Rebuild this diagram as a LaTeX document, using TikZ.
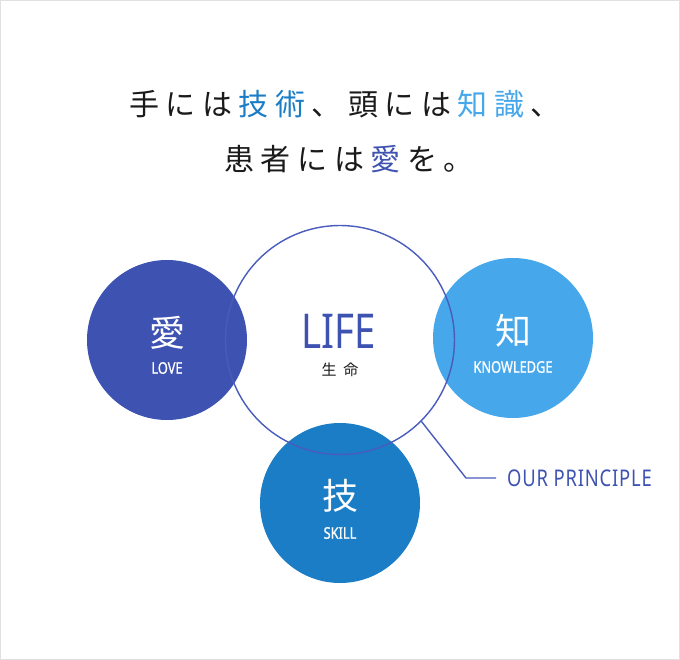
\documentclass[tikz,border=0pt]{standalone}
\usepackage{fontspec}
\setmainfont{Noto Sans CJK JP}
\newfontfamily\jpfont{Noto Sans CJK JP}
\newfontfamily\condfont[FakeStretch=0.8]{Noto Sans}
\newfontfamily\condmed[FakeStretch=0.8, FakeBold=0.8]{Noto Sans}
\newfontfamily\condwide[FakeStretch=0.8, LetterSpace=3.5]{Noto Sans}
\usetikzlibrary{positioning}
\definecolor{lovecol}{HTML}{3E52B1}
\definecolor{skillcol}{HTML}{1B7DC5}
\definecolor{knowcol}{HTML}{46A7EA}
\definecolor{lifecol}{HTML}{4A5BBE}
\definecolor{inkcol}{HTML}{1A1A1A}
\tikzset{
	petal/.style={circle, minimum size=160pt, inner sep=0pt}
}
\tikzset{
	kanjitext/.style={font=\jpfont\fontsize{36}{36}\selectfont, text=white},
	wordtext/.style={font=\condmed\fontsize{16}{16}\selectfont, text=white},
	titletext/.style={font=\jpfont\fontsize{30}{30}\selectfont, text=inkcol}
}
\newcommand{\hue}[2]{\textcolor{#1}{#2}}
\newcommand{\gap}{\hspace{6.5pt}}

\begin{document}
\begin{tikzpicture}[x=1pt, y=-1pt]
      \useasboundingbox (0,0) rectangle (680,660);
      \draw[black!12] (0.5,0.5) rectangle (679.5,659.5);
      % title
      \node[titletext] (line1) at (345,104) {手\gap に\gap は\gap \hue{skillcol}{技\gap 術}\gap 、\gap 頭\gap に\gap は\gap \hue{knowcol}{知\gap 識}\gap 、};
      \node[titletext] (line2) at (349,159) {患\gap 者\gap に\gap は\gap \hue{lovecol}{愛}\gap を\gap 。};
      % the three circles
      \node[petal, fill=lovecol] (love) at (167,340) {};
      \node[petal, fill=knowcol] (know) at (513,338) {};
      \node[petal, fill=skillcol] (skill) at (340,503) {};
      \node[kanjitext] at ([yshift=7pt]love.center) {愛};
      \node[wordtext] at ([yshift=-28pt]love.center) {LOVE};
      \node[kanjitext] at ([yshift=7pt]know.center) {知};
      \node[wordtext] at ([yshift=-29pt]know.center) {KNOWLEDGE};
      \node[kanjitext] at ([yshift=7pt]skill.center) {技};
      \node[wordtext] at ([yshift=-30pt]skill.center) {SKILL};
      % life ring on top
      \node[circle, draw=lifecol, line width=1.4pt, minimum size=229pt, inner sep=0pt] (life) at (340,340) {};
      \node[font=\condfont\fontsize{48}{48}\selectfont, text=lovecol] (lifeword) at (339,331) {LIFE};
      \node[font=\jpfont\fontsize{15}{15}\selectfont, text=inkcol] (lifejp) at (340,370) {生\hspace{7pt}命};
      % principle label
      \coordinate (bend) at (466,478);
      \node[font=\condwide\fontsize{23}{23}\selectfont, text=lovecol, anchor=west, inner sep=0pt] (principle) at (507,478) {OUR PRINCIPLE};
      \draw[lifecol, line width=1.4pt] (life.-45) -- (bend) -- ([xshift=-11pt]principle.west);
    \end{tikzpicture}
\end{document}
